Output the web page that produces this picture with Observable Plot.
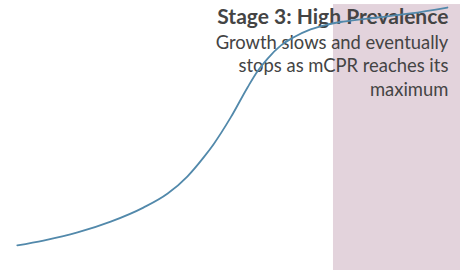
<!DOCTYPE html>
<html>
<head>
<meta charset="utf-8">
<script src="https://cdn.jsdelivr.net/npm/d3@7"></script>
<script src="https://cdn.jsdelivr.net/npm/@observablehq/plot@0.6"></script>
<style>
  html, body { margin: 0; padding: 0; background: #fff; }
  #chart svg { display: block; }
</style>
</head>
<body>
<div id="chart"></div>
<script>
// Curve: time (0–100) vs mCPR (0–100)
const time = [3.6, 9.2, 16.5, 23.6, 30.6, 35.8, 40.0, 43.5, 45.6, 49.3, 52.9, 55.0, 57.2, 60.0, 62.7, 66.4, 70.0, 73.4, 80.7, 87.8, 95.7];
const mcpr = [9.3, 11.1, 14.1, 18.1, 23.3, 28.5, 34.8, 41.9, 46.7, 56.7, 67.8, 73.7, 78.5, 83.3, 86.3, 89.3, 91.1, 92.2, 93.7, 95.2, 97.4];

// Stage band
const stageStart = [71.3];
const stageEnd = [98.5];
const stageTop = [98.5];

// Labels
const stageTitle = ["Stage 3: High Prevalence"];
const stageText = ["Growth slows and eventually\nstops as mCPR reaches its\nmaximum"];
const labelX = [95.9];
const titleY = [96.9];
const textY = [88.4];

const curve = time.map((t, i) => ({t, v: mcpr[i]}));
const band = stageStart.map((s, i) => ({x1: s, x2: stageEnd[i], y1: 0, y2: stageTop[i]}));
const titles = stageTitle.map((s, i) => ({s, x: labelX[i], y: titleY[i]}));
const texts = stageText.map((s, i) => ({s, x: labelX[i], y: textY[i]}));

const chart = Plot.plot({
  width: 467,
  height: 270,
  margin: 0,
  x: {domain: [0, 100], axis: null},
  y: {domain: [0, 100], axis: null},
  style: {fontFamily: "Lato, sans-serif", background: "#fff"},
  marks: [
    Plot.rect(band, {x1: "x1", x2: "x2", y1: "y1", y2: "y2", fill: "#e3d3dc"}),
    Plot.text(titles, {x: "x", y: "y", text: "s", textAnchor: "end", lineAnchor: "top", fontSize: 21, fontWeight: "bold", fill: "#444"}),
    Plot.text(texts, {x: "x", y: "y", text: "s", textAnchor: "end", lineAnchor: "top", fontSize: 18.4, lineHeight: 1.28, fill: "#444"}),
    Plot.line(curve, {x: "t", y: "v", curve: "monotone-x", stroke: "#5289ab", strokeWidth: 1.8})
  ]
});
document.getElementById("chart").appendChild(chart);
</script>
</body>
</html>
